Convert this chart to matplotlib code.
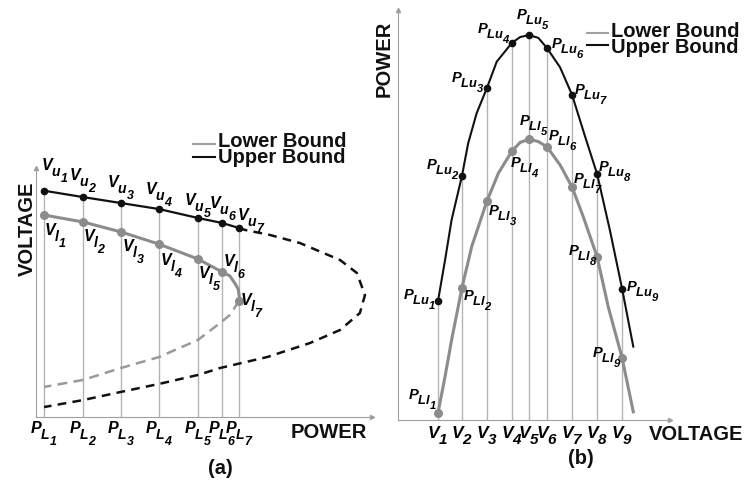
import matplotlib
matplotlib.use("Agg")
from matplotlib import pyplot as plt
from matplotlib.lines import Line2D
import matplotlib._mathtext as mathtext_internals

plt.rcParams['font.family'] = ['Liberation Sans', 'DejaVu Sans']
plt.rcParams['mathtext.fontset'] = 'custom'
plt.rcParams['mathtext.it'] = 'Liberation Sans:italic:bold'
plt.rcParams['mathtext.rm'] = 'Liberation Sans:italic:bold'
plt.rcParams['mathtext.bf'] = 'Liberation Sans:italic:bold'
# subscripts in the original are nearly as large as the main letter and
# step down like a staircase
mathtext_internals.SHRINK_FACTOR = 0.88
mathtext_internals.FontConstantsBase.sub1 = 0.72

# ---- panel (a): voltage vs power ----
pa_power = [0.24, 1.40, 2.53, 3.66, 4.82, 5.54, 6.04]
pa_v_upper = [1.136, 1.104, 1.074, 1.044, 0.999, 0.974, 0.949]
pa_v_lower = [1.014, 0.979, 0.929, 0.868, 0.793, 0.728, 0.582]
pa_tick_labels = [r'$P_{L_%d}$' % i for i in range(1, 8)]

# lower solid curve traced through the bend near the nose
pa_lower_curve_p = [0.24, 1.40, 2.53, 3.66, 4.82, 5.54, 5.77, 5.92, 6.02, 6.05, 6.04]
pa_lower_curve_v = [1.014, 0.979, 0.929, 0.868, 0.793, 0.728, 0.708, 0.671, 0.641, 0.604, 0.582]

# dashed continuation of the upper bound (through the nose, back down)
pa_upper_dash_p = [6.04, 6.22, 6.96, 7.86, 9.05, 9.55, 9.79, 9.64, 9.05, 8.15,
                   6.88, 6.04, 5.48, 4.82, 3.66, 2.53, 1.40, 0.24]
pa_upper_dash_v = [0.949, 0.939, 0.914, 0.873, 0.788, 0.723, 0.612, 0.522, 0.437, 0.371,
                   0.301, 0.268, 0.246, 0.211, 0.166, 0.126, 0.085, 0.050]

# dashed continuation of the lower bound
pa_lower_dash_p = [6.04, 5.77, 5.48, 4.82, 3.66, 2.53, 1.40, 0.24]
pa_lower_dash_v = [0.582, 0.512, 0.472, 0.387, 0.301, 0.246, 0.186, 0.151]

# ---- panel (b): power vs voltage ----
pb_voltage = [1.47, 2.35, 3.27, 4.19, 4.82, 5.48, 6.40, 7.32, 8.24]
pb_p_upper = [0.290, 0.595, 0.810, 0.920, 0.939, 0.907, 0.793, 0.600, 0.320]
pb_p_lower = [0.017, 0.322, 0.534, 0.656, 0.685, 0.666, 0.568, 0.398, 0.151]
pb_tick_labels = [r'$V_%d$' % i for i in range(1, 10)]

pb_upper_curve_v = [1.47, 1.73, 1.97, 2.35, 2.58, 2.89, 3.27, 3.63, 4.19, 4.49,
                    4.82, 5.16, 5.48, 5.96, 6.40, 6.88, 7.32, 7.79, 8.24, 8.65]
pb_upper_curve_p = [0.290, 0.390, 0.488, 0.595, 0.675, 0.748, 0.810, 0.874, 0.920, 0.934,
                    0.939, 0.932, 0.907, 0.860, 0.793, 0.691, 0.600, 0.463, 0.320, 0.179]
pb_lower_curve_v = [1.47, 1.73, 1.97, 2.35, 2.71, 3.27, 3.69, 4.19, 4.49, 4.82,
                    5.16, 5.48, 5.96, 6.40, 6.81, 7.32, 7.73, 8.24, 8.65]
pb_lower_curve_p = [0.017, 0.106, 0.195, 0.322, 0.423, 0.534, 0.602, 0.656, 0.677, 0.685,
                    0.679, 0.666, 0.622, 0.568, 0.496, 0.398, 0.276, 0.151, 0.020]

# label placement: (ha, va, dx, dy) in pixels
pa_up_pos = [('left', 'bottom', -3, 6), ('center', 'bottom', 0, 2), ('center', 'bottom', 0, 1),
             ('center', 'bottom', 0, 0), ('center', 'bottom', 0, -2), ('center', 'bottom', 1, 0),
             ('left', 'bottom', -2, -7)]
pa_lo_pos = [('left', 'top', 0, -7), ('left', 'top', 0, -6), ('left', 'top', 1, -6),
             ('left', 'top', 1, -8), ('left', 'top', 0, -6), ('left', 'center', 1, 5),
             ('left', 'center', 1, -5)]
pb_up_pos = [('right', 'center', -2, 2), ('right', 'center', -2, 6), ('right', 'center', -2, 5),
             ('right', 'center', -1, 9), ('center', 'bottom', 4, 3), ('left', 'center', 4, 0),
             ('left', 'center', 2, 0), ('left', 'center', 1, 2), ('left', 'center', 4, -3)]
pb_lo_pos = [('right', 'center', -1, 13), ('left', 'center', 1, -13), ('left', 'center', 1, -15),
             ('left', 'top', -2, -4), ('center', 'bottom', 5, 1), ('left', 'center', 1, 6),
             ('left', 'center', 1, 4), ('right', 'center', 0, 1), ('right', 'center', -1, 1)]

BLACK = '#111111'
GRAY = '#8c8c8c'
VLINE = '#b4b4b4'
W, H = 751, 487


def fx(x):
    return x / W


def fy(y):
    return 1 - y / H


fig = plt.figure(figsize=(7.51, 4.87), dpi=100)
ax_a = fig.add_axes([fx(36), fy(417), 336 / W, 249 / H])
ax_b = fig.add_axes([fx(398), fy(420), 272 / W, 410 / H])

for ax in (ax_a, ax_b):
    for s in ('top', 'right'):
        ax.spines[s].set_visible(False)
    for s in ('left', 'bottom'):
        ax.spines[s].set_color('#a0a0a0')
        ax.spines[s].set_linewidth(0.8)
    ax.set_yticks([])
    ax.tick_params(axis='x', length=0)
    ax.plot(1, 0, '>', color='#a0a0a0', ms=3, transform=ax.transAxes, clip_on=False)
    ax.plot(0, 1, '^', color='#a0a0a0', ms=3, transform=ax.transAxes, clip_on=False)

# panel (a)
ax_a.set_xlim(0, 10)
ax_a.set_ylim(0, 1.25)
ax_a.vlines(pa_power, 0, pa_v_upper, color=VLINE, lw=1)
ax_a.plot(pa_upper_dash_p, pa_upper_dash_v, color=BLACK, lw=1.8, dashes=(3.5, 2.5))
ax_a.plot(pa_lower_dash_p, pa_lower_dash_v, color='#9a9a9a', lw=1.8, dashes=(4, 2.5))
ax_a.plot(pa_lower_curve_p, pa_lower_curve_v, color=GRAY, lw=2.2, solid_capstyle='round')
ax_a.plot(pa_power, pa_v_upper, color=BLACK, lw=1.6)
ax_a.plot(pa_power, pa_v_lower, 'o', color=GRAY, ms=5.5)
ax_a.plot(pa_power, pa_v_upper, 'o', color=BLACK, ms=4.5)
ax_a.set_xticks(pa_power, pa_tick_labels)
ax_a.tick_params(axis='x', pad=2, labelsize=11.5)

for i, (x, y) in enumerate(zip(pa_power, pa_v_upper)):
    ha, va, dx, dy = pa_up_pos[i]
    ax_a.annotate(r'$V_{u_%d}$' % (i + 1), (x, y), xytext=(dx, dy), textcoords='offset pixels',
                  ha=ha, va=va, fontsize=11.5)
for i, (x, y) in enumerate(zip(pa_power, pa_v_lower)):
    ha, va, dx, dy = pa_lo_pos[i]
    ax_a.annotate(r'$V_{l_%d}$' % (i + 1), (x, y), xytext=(dx, dy), textcoords='offset pixels',
                  ha=ha, va=va, fontsize=11.5)

# panel (b)
ax_b.set_xlim(0, 10)
ax_b.set_ylim(0, 1)
ax_b.vlines(pb_voltage, 0, pb_p_upper, color=VLINE, lw=1)
ax_b.plot(pb_lower_curve_v, pb_lower_curve_p, color=GRAY, lw=2.2)
ax_b.plot(pb_upper_curve_v, pb_upper_curve_p, color=BLACK, lw=1.5)
ax_b.plot(pb_voltage, pb_p_lower, 'o', color=GRAY, ms=5.5)
ax_b.plot(pb_voltage, pb_p_upper, 'o', color=BLACK, ms=4.5)
ax_b.set_xticks(pb_voltage, pb_tick_labels)
ax_b.tick_params(axis='x', pad=3.5, labelsize=12.5)

for i, (x, y) in enumerate(zip(pb_voltage, pb_p_upper)):
    ha, va, dx, dy = pb_up_pos[i]
    ax_b.annotate(r'$P_{Lu_%d}$' % (i + 1), (x, y), xytext=(dx, dy), textcoords='offset pixels',
                  ha=ha, va=va, fontsize=10.5)
for i, (x, y) in enumerate(zip(pb_voltage, pb_p_lower)):
    ha, va, dx, dy = pb_lo_pos[i]
    ax_b.annotate(r'$P_{Ll_%d}$' % (i + 1), (x, y), xytext=(dx, dy), textcoords='offset pixels',
                  ha=ha, va=va, fontsize=10.5)

# axis titles and panel captions
bold = dict(fontsize=14.5, fontweight='bold', color='#111111')
fig.text(fx(329), fy(432.5), 'POWER', ha='center', va='center', **bold)
fig.text(fx(27.5), fy(228.5), 'VOLTAGE', ha='center', va='center', rotation=90, **bold)
fig.text(fx(220), fy(468), '(a)', ha='center', va='center', **bold)
fig.text(fx(384.5), fy(59), 'POWER', ha='center', va='center', rotation=90, **bold)
fig.text(fx(696), fy(435), 'VOLTAGE', ha='center', va='center', **bold)
fig.text(fx(581), fy(459), '(b)', ha='center', va='center', **bold)

# legends drawn by hand (tight line spacing in the original)
for x0, x1, yl, yu, xt, bl, bu in [(193, 215, 144, 157, 218, 147, 163),
                                   (587, 608, 33, 45, 611, 37, 53)]:
    fig.add_artist(Line2D([fx(x0), fx(x1)], [fy(yl), fy(yl)], color='#a0a0a0', lw=1.5))
    fig.add_artist(Line2D([fx(x0), fx(x1)], [fy(yu), fy(yu)], color=BLACK, lw=1.5))
    fig.text(fx(xt), fy(bl), 'Lower Bound', ha='left', va='baseline', **bold)
    fig.text(fx(xt), fy(bu), 'Upper Bound', ha='left', va='baseline', **bold)

fig.savefig('out.png', dpi=100)
